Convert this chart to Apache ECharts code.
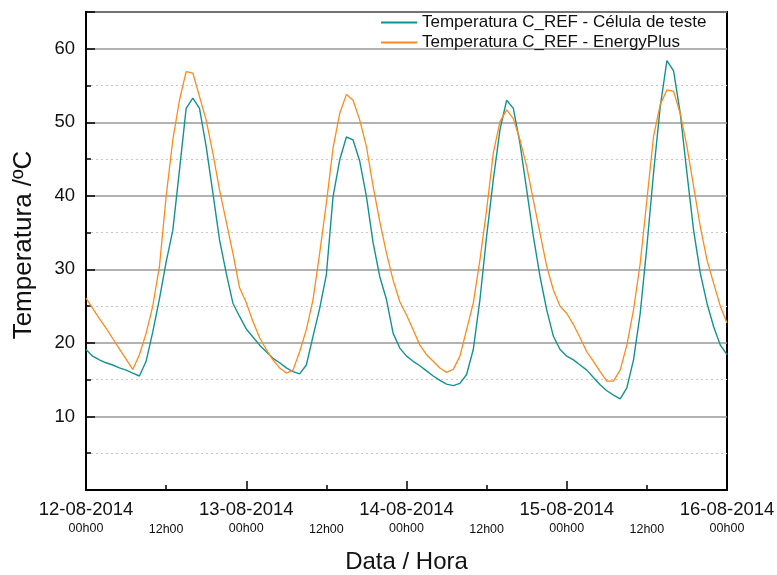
<!DOCTYPE html>
<html>
<head>
<meta charset="utf-8">
<script src="https://cdn.jsdelivr.net/npm/echarts@6/dist/echarts.min.js"></script>
<style>
html,body{margin:0;padding:0;background:#fff;}
#c{width:777px;height:575px;}
</style>
</head>
<body>
<div id="c"></div>
<script>
// Hourly readings, 12-08-2014 00h00 .. 16-08-2014 00h00 (97 points)
const celula = [
  19.1,18.2,17.7,17.3,17.0,16.6,16.3,15.9,15.5,17.5,21.5,26.0,31.0,35.3,43.5,51.9,53.3,51.9,46.7,40.4,34.0,29.5,25.4,23.6,
  21.9,20.8,19.7,18.8,17.9,17.3,16.6,16.1,15.8,17.0,20.9,24.7,29.3,39.9,44.9,48.0,47.6,44.7,39.9,33.6,29.0,25.9,21.3,19.3,
  18.2,17.5,16.9,16.2,15.5,14.9,14.4,14.2,14.5,15.7,19.1,25.9,34.5,42.2,49.0,53.0,51.9,47.1,40.8,34.5,29.0,24.5,20.9,19.1,
  18.2,17.7,17.0,16.3,15.3,14.3,13.5,12.9,12.4,13.9,17.7,24.0,33.1,43.1,52.1,58.4,57.0,51.2,43.1,35.3,29.5,25.4,22.2,19.7,
  18.4
];
const energyPlus = [
  26.1,24.7,23.3,22.0,20.6,19.2,17.8,16.4,18.4,21.3,25.0,30.4,39.9,47.6,53.0,56.9,56.7,53.5,50.3,45.8,40.8,36.5,32.2,27.5,
  25.5,22.9,20.7,19.1,17.7,16.6,15.9,16.3,18.8,21.8,25.9,32.2,39.0,46.5,51.2,53.8,53.0,50.3,46.7,41.3,36.5,32.2,28.5,25.6,
  23.8,21.8,19.7,18.4,17.5,16.6,16.0,16.4,18.2,21.8,25.4,31.3,38.1,45.8,50.1,51.7,50.5,47.6,44.0,39.4,34.9,30.4,27.2,25.0,
  24.0,22.5,20.7,18.8,17.5,16.1,14.8,14.8,16.3,19.7,24.5,30.8,39.4,48.1,52.4,54.4,54.2,51.2,46.7,41.3,35.8,31.3,28.1,25.0,
  22.7
];
const dateLabels = ['12-08-2014','13-08-2014','14-08-2014','15-08-2014','16-08-2014'];
const hourLabels = ['00h00','12h00'];
const seriesNames = ['Temperatura C_REF - Célula de teste','Temperatura C_REF - EnergyPlus'];
const yTitle = 'Temperatura /ºC';
const xTitle = 'Data / Hora';

const FONT = 'Liberation Sans, Arial, sans-serif';
const toPairs = arr => arr.map((v, i) => [i, v]);

const chart = echarts.init(document.getElementById('c'), null, {renderer: 'canvas'});
chart.setOption({
  animation: false,
  backgroundColor: '#fff',
  textStyle: {fontFamily: FONT},
  grid: {left: 86, right: 50, top: 12, bottom: 85, show: true, borderColor: '#000', borderWidth: 2,
         backgroundColor: 'transparent', containLabel: false, outerBoundsMode: 'none'},
  legend: {
    left: 380, top: 14, orient: 'vertical', padding: 0, itemGap: 3,
    itemWidth: 36, itemHeight: 14,
    itemStyle: {opacity: 0},
    textStyle: {fontSize: 17, lineHeight: 17, color: '#111', fontFamily: FONT},
    data: seriesNames
  },
  xAxis: [{
    type: 'value', min: 0, max: 96, interval: 12, position: 'bottom',
    axisLine: {show: true, lineStyle: {color: '#000', width: 2}},
    axisTick: {show: true, inside: true, length: 5, lineStyle: {color: '#000', width: 1.5}},
    splitLine: {show: false},
    axisLabel: {
      show: true, margin: 9, showMinLabel: true, showMaxLabel: true, hideOverlap: false,
      formatter: function (v) {
        if (v % 24 === 0) return '{d|' + dateLabels[v / 24] + '}\n{h|' + hourLabels[0] + '}';
        return '{e| }\n{h2|' + hourLabels[1] + '}';
      },
      rich: {
        d: {fontSize: 18.5, lineHeight: 21, color: '#111', fontFamily: FONT},
        h: {fontSize: 12.5, lineHeight: 17, color: '#111', fontFamily: FONT},
        e: {fontSize: 18.5, lineHeight: 21, fontFamily: FONT},
        h2: {fontSize: 12.5, lineHeight: 20, color: '#111', fontFamily: FONT}
      }
    },
    name: xTitle, nameLocation: 'middle', nameGap: 60,
    nameTextStyle: {fontSize: 24, color: '#111', fontFamily: FONT}
  }, {
    type: 'value', min: 0, max: 96, interval: 24, position: 'bottom',
    axisLine: {show: false},
    axisTick: {show: true, inside: true, length: 9, lineStyle: {color: '#000', width: 1.5}},
    axisLabel: {show: false},
    splitLine: {show: false}
  }],
  yAxis: {
    type: 'value', min: 0, max: 65, interval: 10,
    axisLine: {show: true, lineStyle: {color: '#000', width: 2}},
    axisTick: {show: true, inside: true, length: 9, lineStyle: {color: '#000', width: 1.5}},
    minorTick: {show: true, splitNumber: 2, length: 5, lineStyle: {color: '#000', width: 1.5}},
    splitLine: {show: true, lineStyle: {color: '#999', width: 1.5}},
    minorSplitLine: {show: true, lineStyle: {color: '#c8c8c8', width: 1, type: [2, 3]}},
    axisLabel: {
      margin: 11, fontSize: 18.5, color: '#111', fontFamily: FONT,
      formatter: v => (v === 0 || v === 65) ? '' : String(v)
    },
    name: yTitle, nameLocation: 'middle', nameGap: 49, nameRotate: 90,
    nameTextStyle: {fontSize: 26, color: '#111', fontFamily: FONT, padding: [0, 0, 0, 12]}
  },
  series: [{
    name: seriesNames[0], type: 'line', xAxisIndex: 0, symbol: 'none',
    color: '#13938e', lineStyle: {width: 1.4, color: '#13938e'},
    data: toPairs(celula)
  }, {
    name: seriesNames[1], type: 'line', xAxisIndex: 0, symbol: 'none',
    color: '#ff8a1c', lineStyle: {width: 1.3, color: '#ff8a1c'},
    data: toPairs(energyPlus)
  }]
});
</script>
</body>
</html>
